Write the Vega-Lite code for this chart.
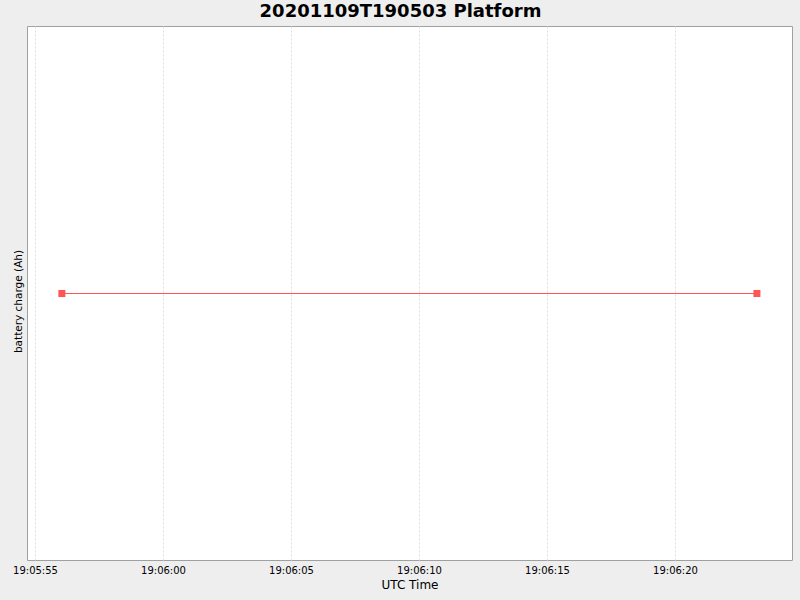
{
  "$schema": "https://vega.github.io/schema/vega-lite/v6.json",
  "autosize": "none",
  "width": 765,
  "height": 534,
  "padding": {"left": 27, "top": 26, "right": 8, "bottom": 40},
  "background": "#EEEEEE",
  "title": {
    "text": "20201109T190503 Platform",
    "font": "DejaVu Sans",
    "fontSize": 18,
    "fontWeight": "bold",
    "color": "#000000",
    "anchor": "middle",
    "dx": -9,
    "offset": 5
  },
  "data": {
    "values": [
      {"time": "2020-11-09T19:05:56.05Z", "charge": 0},
      {"time": "2020-11-09T19:06:23.20Z", "charge": 0}
    ]
  },
  "encoding": {
    "x": {
      "field": "time",
      "type": "temporal",
      "scale": {
        "type": "utc",
        "domain": [
          {"year": 2020, "month": 11, "date": 9, "hours": 19, "minutes": 5, "seconds": 54, "milliseconds": 688, "utc": true},
          {"year": 2020, "month": 11, "date": 9, "hours": 19, "minutes": 6, "seconds": 24, "milliseconds": 570, "utc": true}
        ]
      },
      "axis": {
        "title": "UTC Time",
        "labelExpr": "utcFormat(datum.value, '%H:%M:%S')",
        "values": [
          {"year": 2020, "month": 11, "date": 9, "hours": 19, "minutes": 5, "seconds": 55, "utc": true},
          {"year": 2020, "month": 11, "date": 9, "hours": 19, "minutes": 6, "seconds": 0, "utc": true},
          {"year": 2020, "month": 11, "date": 9, "hours": 19, "minutes": 6, "seconds": 5, "utc": true},
          {"year": 2020, "month": 11, "date": 9, "hours": 19, "minutes": 6, "seconds": 10, "utc": true},
          {"year": 2020, "month": 11, "date": 9, "hours": 19, "minutes": 6, "seconds": 15, "utc": true},
          {"year": 2020, "month": 11, "date": 9, "hours": 19, "minutes": 6, "seconds": 20, "utc": true}
        ],
        "grid": true,
        "gridColor": "#DDDDDD",
        "gridDash": [2, 2],
        "gridWidth": 1,
        "ticks": false,
        "domain": false,
        "labelFont": "DejaVu Sans",
        "labelFontSize": 10,
        "labelColor": "#000000",
        "labelPadding": 5,
        "labelFlush": false,
        "titleFont": "DejaVu Sans",
        "titleFontSize": 12,
        "titleFontWeight": "normal",
        "titleColor": "#000000",
        "titlePadding": 4
      }
    },
    "y": {
      "field": "charge",
      "type": "quantitative",
      "scale": {"domain": [-1, 1.00375]},
      "axis": {
        "title": "battery charge (Ah)",
        "labels": false,
        "ticks": false,
        "grid": false,
        "domain": false,
        "titleFont": "DejaVu Sans",
        "titleFontSize": 10.5,
        "titleFontWeight": "normal",
        "titleColor": "#000000",
        "titlePadding": 4,
        "titleY": 275
      }
    }
  },
  "layer": [
    {
      "mark": {"type": "line", "color": "#FF5555", "strokeWidth": 1}
    },
    {
      "mark": {"type": "square", "color": "#FF5555", "filled": true, "opacity": 1, "size": 49}
    }
  ],
  "config": {
    "view": {"fill": "#FFFFFF", "stroke": "#A0A0A0", "strokeWidth": 1}
  }
}
